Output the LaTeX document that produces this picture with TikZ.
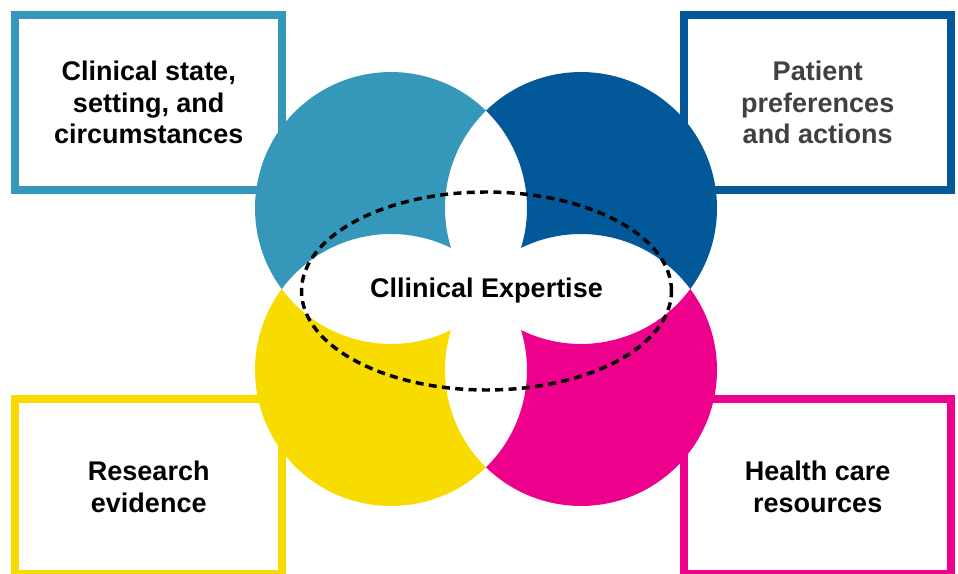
\documentclass[tikz,border=0pt]{standalone}
\usepackage{fontspec}
\setmainfont{Liberation Sans}
\usepackage{tikz}
\usetikzlibrary{shapes.geometric}
\definecolor{cteal}{HTML}{3598BA}
\definecolor{cblue}{HTML}{03589A}
\definecolor{cyellow}{HTML}{F8DC00}
\definecolor{cpink}{HTML}{EC008C}
\definecolor{cgray}{HTML}{404040}

\begin{document}
\begin{tikzpicture}[x=0.75pt,y=-0.75pt,
  label font/.style={font=\fontsize{20.25}{23.8}\selectfont\bfseries},
  infobox/.style={draw=#1,line width=6pt,minimum width=199.9pt,minimum height=131.25pt,align=center,label font},
  petal/.style={fill=#1}]
\useasboundingbox (0,0) rectangle (958,574);
\node[infobox=cteal] (state) at (148.75,102.5) {Clinical state,\\setting, and\\circumstances};
\node[infobox=cblue,text=cgray] (pref) at (817.75,102.5) {Patient\\preferences\\and actions};
\node[infobox=cyellow] (evid) at (148.75,486.5) {Research\\evidence};
\node[infobox=cpink] (res) at (817.75,486.5) {Health care\\resources};
\fill[petal=cteal] (281.75,289) arc[start angle=143.45,end angle=314.31,radius=136]
  arc[start angle=225.69,end angle=162.92,radius=136]
  arc[start angle=296.18,end angle=216.55,radius=136] -- cycle;
\fill[petal=cblue] (690.25,289) arc[start angle=36.55,end angle=-134.31,radius=136]
  arc[start angle=-45.69,end angle=17.08,radius=136]
  arc[start angle=-116.18,end angle=-36.55,radius=136] -- cycle;
\fill[petal=cyellow] (281.75,289) arc[start angle=-143.45,end angle=-314.31,radius=136]
  arc[start angle=-225.69,end angle=-162.92,radius=136]
  arc[start angle=-296.18,end angle=-216.55,radius=136] -- cycle;
\fill[petal=cpink] (690.25,289) arc[start angle=-36.55,end angle=134.31,radius=136]
  arc[start angle=45.69,end angle=-17.08,radius=136]
  arc[start angle=116.18,end angle=36.55,radius=136] -- cycle;
\node[ellipse,draw,line width=2.6pt,dash pattern=on 6pt off 4pt,minimum width=277.5pt,minimum height=148.5pt,label font] (exp) at (486.5,291) {Cllinical Expertise};
\end{tikzpicture}
\end{document}
